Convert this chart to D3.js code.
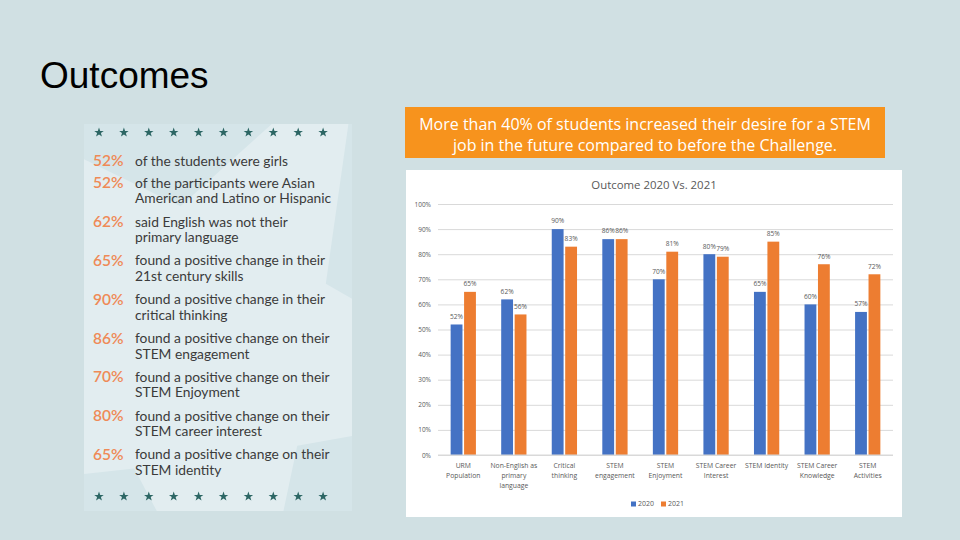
<!DOCTYPE html>
<html><head><meta charset="utf-8">
<script src="https://cdn.jsdelivr.net/npm/d3@7"></script>
<style>body{margin:0;background:#d0e0e3;} svg{display:block}</style></head>
<body>
<svg id="c" width="960" height="540"></svg>
<script>
// ---- data ----
const categories = [
  ["URM", "Population"],
  ["Non-English as", "primary", "language"],
  ["Critical", "thinking"],
  ["STEM", "engagement"],
  ["STEM", "Enjoyment"],
  ["STEM Career", "Interest"],
  ["STEM Identity"],
  ["STEM Career", "Knowledge"],
  ["STEM", "Activities"]
];
const seriesNames = ["2020", "2021"];
const values2020 = [52, 62, 90, 86, 70, 80, 65, 60, 57];
const values2021 = [65, 56, 83, 86, 81, 79, 85, 76, 72];
const yTicks = [0, 10, 20, 30, 40, 50, 60, 70, 80, 90, 100];
const factPercents = ["52%", "52%", "62%", "65%", "90%", "86%", "70%", "80%", "65%"];
const factTexts = [
  ["of the students were girls"],
  ["of the participants were Asian", "American and Latino or Hispanic"],
  ["said English was not their", "primary language"],
  ["found a positive change in their", "21st century skills"],
  ["found a positive change in their", "critical thinking"],
  ["found a positive change on their", "STEM engagement"],
  ["found a positive change on their", "STEM Enjoyment"],
  ["found a positive change on their", "STEM career interest"],
  ["found a positive change on their", "STEM identity"]
];
const pageTitle = "Outcomes";
const bannerLines = ["More than 40% of students increased their desire for a STEM", "job in the future compared to before the Challenge."];
const chartTitle = "Outcome 2020 Vs. 2021";

const svg = d3.select("#c");
const colors = {"2020": "#4472c4", "2021": "#ed7d31"};

// background
svg.append("rect").attr("width", 960).attr("height", 540).attr("fill", "#d0e0e3");

// title
svg.append("text").attr("x", 40).attr("y", 88).text(pageTitle)
  .attr("font-family", "Liberation Sans, Arial, sans-serif").attr("font-size", 37).attr("fill", "#000");

// ---- left panel ----
const panel = {x: 84, y: 124, w: 268, h: 387};
const defs = svg.append("defs");
defs.append("clipPath").attr("id", "pclip").append("rect")
  .attr("x", panel.x).attr("y", panel.y).attr("width", panel.w).attr("height", panel.h);
svg.append("rect").attr("x", panel.x).attr("y", panel.y).attr("width", panel.w).attr("height", panel.h).attr("fill", "#d5e5e9");
function starPoints(cx, cy, R, r, rot) {
  const pts = [];
  for (let i = 0; i < 10; i++) {
    const a = rot + i * Math.PI / 5;
    const rad = i % 2 === 0 ? R : r;
    pts.push([cx + rad * Math.sin(a), cy - rad * Math.cos(a)]);
  }
  return pts.map(p => p.join(",")).join(" ");
}
svg.append("polygon").attr("clip-path", "url(#pclip)")
  .attr("points", starPoints(200, 345, 340, 140, 28 * Math.PI / 180))
  .attr("fill", "#e2edf0");

// small stars rows
const starXs = d3.range(10).map(i => 99 + i * 24.9);
[132, 496].forEach(yy => {
  svg.append("g").selectAll("polygon").data(starXs).join("polygon")
    .attr("points", d => starPoints(d, yy + 0.5, 5, 2, 0))
    .attr("fill", "#2c6664");
});

// facts
const factY = factPercents.map((p, i) => i === 0 ? 161 : 183 + (i - 1) * 38.8);
const fg = svg.append("g").attr("font-family", "Lato, 'Open Sans', sans-serif");
factPercents.forEach((p, i) => {
  fg.append("text").attr("x", 93).attr("y", factY[i]).attr("dy", "0.35em")
    .attr("font-size", 15.5).attr("font-weight", 600).attr("fill", "#ef8a57").text(p);
  factTexts[i].forEach((t, j) => {
    fg.append("text").attr("x", 135).attr("y", factY[i] + j * 15.5).attr("dy", "0.35em")
      .attr("font-size", 13.8).attr("fill", "#3b3b3b").text(t);
  });
});

// ---- banner ----
svg.append("rect").attr("x", 405).attr("y", 107).attr("width", 480).attr("height", 51).attr("fill", "#f7931d");
bannerLines.forEach((t, i) => {
  svg.append("text").attr("x", 645).attr("y", 124 + i * 21).attr("dy", "0.35em")
    .attr("text-anchor", "middle").attr("font-family", "'Open Sans', sans-serif")
    .attr("font-size", 16).attr("fill", "#fff").text(t);
});

// ---- chart ----
svg.append("rect").attr("x", 406).attr("y", 170).attr("width", 496).attr("height", 347).attr("fill", "#fff");
const chart = svg.append("g").attr("font-family", "'Open Sans', 'Liberation Sans', sans-serif");

chart.append("text").attr("x", 654).attr("y", 185).attr("dy", "0.35em").attr("text-anchor", "middle")
  .attr("font-size", 11.4).attr("fill", "#595959").text(chartTitle);

const y = d3.scaleLinear().domain([0, 100]).range([455, 204]);
const x = d3.scaleBand().domain(d3.range(categories.length)).range([438, 893]).paddingInner(0.5).paddingOuter(0.25);
const xs = d3.scaleBand().domain(seriesNames).range([0, x.bandwidth()]).paddingInner(0.12);

// gridlines + y axis
const yAxis = d3.axisLeft(y).tickValues(yTicks).tickFormat(d => d + "%").tickSize(-(893 - 438)).tickPadding(7);
const ga = chart.append("g").attr("transform", "translate(438,0)").call(yAxis);
ga.select(".domain").remove();
ga.selectAll(".tick line").attr("stroke", "#d9d9d9").attr("stroke-width", 1);
ga.selectAll(".tick text").attr("font-size", 6.5).attr("fill", "#595959").attr("font-family", "'Open Sans', sans-serif");

// bars
const data = categories.map((c, i) => ({i, vals: [{s: "2020", v: values2020[i]}, {s: "2021", v: values2021[i]}]}));
const groups = chart.append("g").selectAll("g").data(data).join("g")
  .attr("transform", d => `translate(${x(d.i)},0)`);
groups.selectAll("rect").data(d => d.vals).join("rect")
  .attr("x", d => xs(d.s)).attr("width", xs.bandwidth())
  .attr("y", d => y(d.v)).attr("height", d => y(0) - y(d.v))
  .attr("fill", d => colors[d.s]);
groups.selectAll("text.lbl").data(d => d.vals).join("text").attr("class", "lbl")
  .attr("x", d => xs(d.s) + xs.bandwidth() / 2).attr("y", d => y(d.v) - 8).attr("dy", "0.35em")
  .attr("text-anchor", "middle").attr("font-size", 6.6).attr("fill", "#595959").text(d => d.v + "%");

// x axis baseline
chart.append("line").attr("x1", 438).attr("x2", 893).attr("y1", y(0)).attr("y2", y(0)).attr("stroke", "#d9d9d9");

// category labels
const xl = chart.append("g").selectAll("text").data(categories).join("text")
  .attr("text-anchor", "middle").attr("font-size", 6.8).attr("fill", "#595959")
  .attr("transform", (d, i) => `translate(${x(i) + x.bandwidth() / 2},466)`);
xl.selectAll("tspan").data(d => d).join("tspan").attr("x", 0).attr("y", (d, j) => j * 10).attr("dy", "0.35em").text(d => d);

// legend
const lg = chart.append("g").attr("transform", "translate(631,504)");
seriesNames.forEach((s, i) => {
  const g = lg.append("g").attr("transform", `translate(${i * 30},0)`);
  g.append("rect").attr("x", 0).attr("y", -2.5).attr("width", 5).attr("height", 5).attr("fill", colors[s]);
  g.append("text").attr("x", 7).attr("y", 0).attr("dy", "0.35em").attr("font-size", 7).attr("fill", "#595959").text(s);
});
</script>
</body></html>
